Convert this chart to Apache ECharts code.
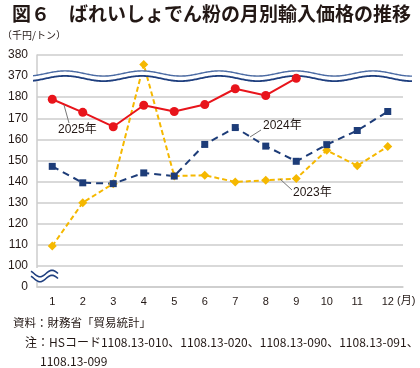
<!DOCTYPE html>
<html><head><meta charset="utf-8">
<script src="https://cdn.jsdelivr.net/npm/echarts@6/dist/echarts.min.js"></script>
<style>html,body{margin:0;padding:0;background:#fff}#c{width:420px;height:368px}</style>
</head><body><div id="c"></div>
<script>
var months = ['1','2','3','4','5','6','7','8','9','10','11','12'];
var yTickLabels = ['0','100','110','120','130','140','150','160','170','180','370','380'];
var v2025 = [179, 172.8, 166, 176.2, 173.2, 176.5, 184, 180.8, 189, null, null, null];
var v2024 = [147.2, 139.4, 139, 144.1, 142.6, 157.6, 165.6, 156.8, 149.6, 157.5, 164.2, 173.2];
var v2023 = [109.4, 130, 139, 375.5, 142.6, 143, 139.8, 140.6, 141.4, 154.8, 147.5, 156.6];

// broken axis: 0 | 100..190 | 370..380
function toAxis(v){
  if (v == null) return null;
  if (v >= 370) return 10 + (v - 370) / 10;
  if (v >= 100) return 1 + (v - 100) / 10;
  return v / 100;
}
function mapArr(a){ return a.map(toAxis); }

var FONT = '"Liberation Sans","Noto Sans CJK JP",sans-serif';
var JP = '"Noto Sans CJK JP",sans-serif';

function wavePts(x0, x1, yc, amp, period, peakX, off){
  var pts = [];
  for (var x = x0; x <= x1; x += 1){
    pts.push([x, yc + off - amp * Math.cos(2 * Math.PI * (x - peakX) / period)]);
  }
  return pts;
}
function bandPoly(top, bot){
  return top.concat(bot.slice().reverse());
}
var topW = wavePts(33, 412, 73.5, 2.6, 77, 65, 0);
var botW = wavePts(33, 412, 73.5, 2.6, 77, 65, 5);
var topS = wavePts(31, 58, 273.5, -3.2, 24, 40, 0);
var botS = wavePts(31, 58, 273.5, -3.2, 24, 40, 5);

var chart = echarts.init(document.getElementById('c'), null, {renderer: 'canvas'});
chart.setOption({
  animation: false,
  backgroundColor: '#fff',
  grid: {left: 37, right: 17, top: 55, bottom: 81},
  xAxis: {
    type: 'category', data: months, boundaryGap: true,
    axisLine: {show: true, lineStyle: {color: '#cccccc', width: 1.5}},
    axisTick: {show: false},
    axisLabel: {color: '#231815', fontSize: 11, fontFamily: FONT, margin: 9}
  },
  yAxis: {
    type: 'value', min: 0, max: 11, interval: 1,
    axisLine: {show: true, lineStyle: {color: '#cccccc', width: 1.5}},
    axisTick: {show: false},
    splitLine: {lineStyle: {color: '#cccccc', width: 1.5}},
    axisLabel: {color: '#231815', fontSize: 12, fontFamily: FONT, margin: 9,
      formatter: function(v){ return yTickLabels[Math.round(v)]; }}
  },
  series: [
    {name: '2023年', type: 'line', data: mapArr(v2023), z: 2,
      symbol: 'diamond', symbolSize: 9,
      itemStyle: {color: '#F5B800'},
      lineStyle: {color: '#F5B800', width: 2, type: [5, 3]}},
    {name: '2024年', type: 'line', data: mapArr(v2024), z: 2,
      symbol: 'rect', symbolSize: 7,
      itemStyle: {color: '#1D3C78'},
      lineStyle: {color: '#1D3C78', width: 2, type: [7, 5]}},
    {name: '2025年', type: 'line', data: mapArr(v2025), z: 4,
      symbol: 'circle', symbolSize: 9,
      itemStyle: {color: '#E8141B'},
      lineStyle: {color: '#E8141B', width: 2}}
  ],
  graphic: [
    {type: 'text', left: 12, top: 4, z: 10,
      style: {text: '図６　ばれいしょでん粉の月別輸入価格の推移', fontSize: 19, fontWeight: 'bold', fontFamily: JP, fill: '#231815'}},
    {type: 'text', left: 2, top: 30, z: 10,
      style: {text: '（千円/トン）', fontSize: 10, fontFamily: JP, fill: '#231815'}},
    {type: 'text', left: 397, top: 295, z: 10,
      style: {text: '(月)', fontSize: 11, fontFamily: FONT, fill: '#231815'}},
    // axis break (upper)
    {type: 'polygon', z: 3, shape: {points: bandPoly(topW, botW)}, style: {fill: '#fff'}},
    {type: 'polyline', z: 3, shape: {points: topW}, style: {stroke: '#4a6aa3', lineWidth: 1.4, fill: null}},
    {type: 'polyline', z: 3, shape: {points: botW}, style: {stroke: '#1f3f7f', lineWidth: 1.8, fill: null}},
    // axis break (lower)
    {type: 'polygon', z: 3, shape: {points: bandPoly(topS, botS)}, style: {fill: '#fff'}},
    {type: 'rect', z: 3, shape: {x: 35, y: 268, width: 4, height: 14}, style: {fill: '#fff'}},
    {type: 'polyline', z: 3, shape: {points: topS}, style: {stroke: '#1f3f7f', lineWidth: 1.6, fill: null}},
    {type: 'polyline', z: 3, shape: {points: botS}, style: {stroke: '#1f3f7f', lineWidth: 1.6, fill: null}},
    // annotations
    {type: 'line', z: 5, shape: {x1: 64, y1: 105, x2: 69, y2: 123}, style: {stroke: '#777', lineWidth: 1}},
    {type: 'text', left: 58, top: 124, z: 5, style: {text: '2025年', fontSize: 12, fontFamily: FONT, fill: '#231815'}},
    {type: 'line', z: 5, shape: {x1: 250, y1: 137, x2: 261, y2: 130}, style: {stroke: '#777', lineWidth: 1}},
    {type: 'text', left: 263, top: 120, z: 5, style: {text: '2024年', fontSize: 12, fontFamily: FONT, fill: '#231815'}},
    {type: 'line', z: 5, shape: {x1: 280, y1: 179, x2: 292, y2: 190}, style: {stroke: '#777', lineWidth: 1}},
    {type: 'text', left: 293, top: 187, z: 5, style: {text: '2023年', fontSize: 12, fontFamily: FONT, fill: '#231815'}},
    // footer
    {type: 'text', left: 13, top: 317, z: 10, style: {text: '資料：財務省「貿易統計」', fontSize: 11.5, fontFamily: JP, fill: '#231815'}},
    {type: 'text', left: 25, top: 336, z: 10, style: {text: '注：HSコード1108.13-010、1108.13-020、1108.13-090、1108.13-091、', fontSize: 12, fontFamily: JP, fill: '#231815'}},
    {type: 'text', left: 40, top: 355, z: 10, style: {text: '1108.13-099', fontSize: 12, fontFamily: JP, fill: '#231815'}}
  ]
});
</script></body></html>
